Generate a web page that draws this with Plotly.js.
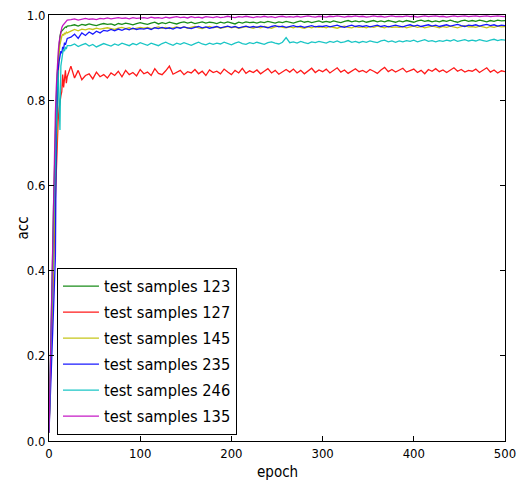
<!DOCTYPE html>
<html>
<head>
<meta charset="utf-8">
<script src="https://cdn.plot.ly/plotly-3.0.1.min.js"></script>
<style>html,body{margin:0;padding:0;background:#fff;}#chart{width:517px;height:482px;}</style>
</head>
<body>
<div id="chart"></div>
<script>
var epochs = [0,1,2,3,4,5,6,7,8,9,10,11,12,13,14,15,16,17,18,19,20,
  24,28,32,36,40,44,48,52,56,60,
  64,68,72,76,80,84,88,92,96,100,
  104,108,112,116,120,124,128,132,136,140,
  144,148,152,156,160,164,168,172,176,180,
  184,188,192,196,200,204,208,212,216,220,
  224,228,232,236,240,244,248,252,256,260,
  264,268,272,276,280,284,288,292,296,300,
  304,308,312,316,320,324,328,332,336,340,
  344,348,352,356,360,364,368,372,376,380,
  384,388,392,396,400,404,408,412,416,420,
  424,428,432,436,440,444,448,452,456,460,
  464,468,472,476,480,484,488,492,496,500];

var acc123 = [0.02,0.11,0.22,0.33,0.44,0.55,0.65,0.73,0.80,0.86,0.90,0.93,0.95,0.96,0.962,0.966,0.968,0.970,0.972,0.971,0.974,
  0.975,0.977,0.974,0.978,0.976,0.979,0.977,0.975,0.978,0.980,
  0.978,0.979,0.976,0.980,0.978,0.981,0.979,0.977,0.980,0.982,
  0.980,0.978,0.981,0.983,0.979,0.982,0.980,0.983,0.981,0.979,
  0.982,0.984,0.981,0.983,0.980,0.982,0.984,0.981,0.983,0.982,
  0.980,0.983,0.981,0.984,0.982,0.979,0.983,0.981,0.984,0.982,
  0.983,0.981,0.984,0.982,0.985,0.983,0.981,0.984,0.982,0.985,
  0.983,0.981,0.984,0.986,0.983,0.985,0.982,0.984,0.986,0.983,
  0.985,0.983,0.986,0.984,0.982,0.985,0.987,0.984,0.986,0.984,
  0.986,0.983,0.985,0.987,0.984,0.986,0.984,0.987,0.985,0.983,
  0.986,0.984,0.987,0.985,0.983,0.986,0.988,0.985,0.987,0.984,
  0.986,0.984,0.987,0.985,0.988,0.985,0.983,0.986,0.988,0.985,
  0.987,0.985,0.988,0.986,0.984,0.987,0.985,0.988,0.986,0.987];

var acc127 = [0.02,0.09,0.17,0.25,0.33,0.41,0.49,0.57,0.64,0.70,0.75,0.78,0.80,0.81,0.82,0.86,0.83,0.85,0.87,0.84,0.855,
  0.880,0.852,0.870,0.848,0.858,0.862,0.850,0.866,0.855,0.860,
  0.852,0.864,0.858,0.868,0.855,0.870,0.860,0.865,0.857,0.872,
  0.862,0.866,0.858,0.874,0.863,0.860,0.869,0.880,0.861,0.866,
  0.870,0.860,0.867,0.864,0.872,0.862,0.868,0.858,0.871,0.865,
  0.868,0.862,0.873,0.866,0.860,0.870,0.864,0.875,0.863,0.869,
  0.865,0.871,0.862,0.868,0.874,0.864,0.870,0.861,0.867,0.872,
  0.866,0.873,0.864,0.870,0.862,0.868,0.875,0.865,0.871,0.867,
  0.873,0.864,0.869,0.876,0.866,0.871,0.863,0.869,0.874,0.867,
  0.870,0.865,0.872,0.868,0.863,0.871,0.877,0.867,0.872,0.866,
  0.871,0.875,0.866,0.870,0.873,0.865,0.870,0.862,0.872,0.868,
  0.874,0.867,0.871,0.865,0.870,0.876,0.868,0.872,0.866,0.870,
  0.868,0.873,0.865,0.870,0.876,0.866,0.871,0.864,0.869,0.867];

var acc145 = [0.02,0.10,0.19,0.28,0.37,0.46,0.55,0.63,0.70,0.78,0.86,0.91,0.93,0.945,0.95,0.955,0.952,0.958,0.955,0.960,0.958,
  0.962,0.966,0.963,0.967,0.965,0.968,0.966,0.969,0.967,0.968,
  0.970,0.968,0.966,0.969,0.971,0.968,0.970,0.967,0.969,0.971,
  0.969,0.971,0.968,0.970,0.972,0.969,0.971,0.968,0.970,0.972,
  0.970,0.972,0.969,0.971,0.973,0.970,0.968,0.971,0.973,0.970,
  0.972,0.969,0.971,0.973,0.970,0.972,0.969,0.971,0.973,0.971,
  0.969,0.972,0.970,0.973,0.971,0.969,0.972,0.974,0.971,0.970,
  0.972,0.970,0.973,0.971,0.969,0.972,0.970,0.973,0.971,0.972,
  0.970,0.973,0.971,0.969,0.972,0.974,0.971,0.970,0.973,0.971,
  0.972,0.970,0.973,0.971,0.974,0.972,0.970,0.973,0.971,0.972,
  0.971,0.973,0.970,0.972,0.974,0.971,0.973,0.970,0.972,0.974,
  0.972,0.970,0.973,0.971,0.974,0.972,0.970,0.973,0.975,0.972,
  0.973,0.971,0.974,0.972,0.970,0.973,0.971,0.974,0.972,0.973];

var acc235 = [0.02,0.07,0.13,0.19,0.25,0.31,0.37,0.43,0.72,0.82,0.87,0.89,0.90,0.915,0.91,0.925,0.92,0.935,0.93,0.94,0.945,
  0.948,0.955,0.945,0.958,0.952,0.960,0.955,0.962,0.958,0.964,
  0.962,0.966,0.963,0.967,0.964,0.968,0.965,0.969,0.966,0.968,
  0.967,0.969,0.966,0.970,0.968,0.971,0.968,0.970,0.967,0.971,
  0.969,0.972,0.970,0.968,0.971,0.973,0.970,0.972,0.969,0.971,
  0.973,0.970,0.972,0.974,0.971,0.973,0.970,0.972,0.974,0.971,
  0.973,0.971,0.974,0.972,0.970,0.973,0.975,0.972,0.974,0.971,
  0.973,0.975,0.972,0.974,0.971,0.973,0.975,0.972,0.974,0.973,
  0.975,0.972,0.974,0.976,0.973,0.971,0.974,0.976,0.973,0.975,
  0.973,0.975,0.972,0.974,0.976,0.973,0.975,0.972,0.974,0.976,
  0.974,0.972,0.975,0.977,0.974,0.976,0.973,0.975,0.977,0.974,
  0.976,0.973,0.975,0.977,0.974,0.976,0.978,0.975,0.973,0.976,
  0.975,0.977,0.974,0.976,0.978,0.975,0.977,0.974,0.976,0.975];

var acc246 = [0.02,0.10,0.20,0.30,0.40,0.50,0.59,0.67,0.75,0.83,0.87,0.80,0.73,0.88,0.90,0.91,0.92,0.915,0.925,0.92,0.928,
  0.928,0.932,0.926,0.930,0.933,0.927,0.931,0.925,0.929,0.933,
  0.930,0.927,0.932,0.929,0.934,0.931,0.928,0.933,0.930,0.935,
  0.932,0.929,0.934,0.931,0.928,0.933,0.936,0.932,0.929,0.934,
  0.931,0.935,0.932,0.929,0.933,0.936,0.932,0.930,0.934,0.931,
  0.934,0.932,0.936,0.933,0.930,0.934,0.937,0.933,0.931,0.935,
  0.933,0.936,0.934,0.931,0.935,0.937,0.934,0.932,0.936,0.947,
  0.935,0.937,0.934,0.938,0.935,0.933,0.937,0.935,0.938,0.936,
  0.934,0.938,0.936,0.939,0.935,0.937,0.940,0.936,0.938,0.935,
  0.938,0.936,0.939,0.937,0.935,0.939,0.941,0.937,0.939,0.936,
  0.939,0.937,0.940,0.938,0.941,0.937,0.939,0.942,0.938,0.940,
  0.937,0.940,0.938,0.941,0.939,0.942,0.938,0.940,0.942,0.939,
  0.941,0.939,0.942,0.940,0.938,0.941,0.943,0.940,0.942,0.941];

var acc135 = [0.02,0.13,0.25,0.37,0.49,0.60,0.69,0.77,0.83,0.88,0.91,0.935,0.95,0.962,0.97,0.975,0.978,0.982,0.984,0.986,0.988,
  0.989,0.991,0.988,0.990,0.992,0.990,0.991,0.989,0.992,0.991,
  0.993,0.991,0.992,0.994,0.992,0.993,0.991,0.994,0.992,0.993,
  0.994,0.992,0.995,0.993,0.994,0.992,0.995,0.993,0.994,0.996,
  0.994,0.995,0.993,0.996,0.994,0.995,0.993,0.996,0.995,0.994,
  0.996,0.994,0.995,0.997,0.995,0.994,0.996,0.995,0.997,0.995,
  0.994,0.996,0.995,0.997,0.995,0.996,0.994,0.996,0.997,0.995,
  0.996,0.995,0.997,0.995,0.996,0.998,0.996,0.995,0.997,0.996,
  0.995,0.997,0.996,0.998,0.996,0.995,0.997,0.996,0.998,0.996,
  0.997,0.995,0.996,0.998,0.996,0.997,0.995,0.997,0.998,0.996,
  0.997,0.996,0.998,0.996,0.997,0.995,0.997,0.998,0.996,0.997,
  0.998,0.996,0.997,0.995,0.997,0.998,0.996,0.997,0.998,0.996,
  0.997,0.998,0.996,0.997,0.998,0.996,0.997,0.998,0.997,0.996];

var seriesNames = ['test samples 123','test samples 127','test samples 145','test samples 235','test samples 246','test samples 135'];
var seriesValues = [acc123, acc127, acc145, acc235, acc246, acc135];
var seriesColors = ['#008000','#ff0000','#bfbf00','#0000ff','#00bfbf','#bf00bf'];
var xTicks = [0,100,200,300,400,500];
var yTicks = [0,0.2,0.4,0.6,0.8,1.0];

var FONT = '"DejaVu Sans Condensed", "DejaVu Sans", sans-serif';

var traces = seriesNames.map(function(n, i){
  return {x: epochs, y: seriesValues[i], name: n, type: 'scatter', mode: 'lines',
    legendgroup: 'g'+i, opacity: 0.9,
    line: {color: seriesColors[i], width: 1.3}};
});

var axisCommon = {showgrid:false, zeroline:false, showline:true, linecolor:'#000', linewidth:1,
  mirror:'ticks', ticks:'inside', ticklen:5, tickwidth:1, tickcolor:'#000',
  tickfont:{family:FONT, size:13, color:'#000'}};

var layout = {
  width:517, height:482,
  margin:{l:49, r:12, t:15, b:41},
  paper_bgcolor:'#fff', plot_bgcolor:'#fff',
  font:{family:FONT, color:'#000'},
  showlegend:true,
  legend:{x:0.0175, y:0.014, xanchor:'left', yanchor:'bottom', bgcolor:'#fff',
    bordercolor:'#000', borderwidth:1, tracegroupgap:1.8, itemwidth:36,
    font:{family:FONT, size:16.3, color:'#000'}},
  xaxis: Object.assign({}, axisCommon, {range:[0,500], tickvals:xTicks, ticktext:xTicks.map(String)}),
  yaxis: Object.assign({}, axisCommon, {range:[0,1], tickvals:yTicks, ticktext:yTicks.map(function(v){return v.toFixed(1);})}),
  annotations:[
    {text:'acc', xref:'paper', yref:'paper', x:-0.058, y:0.5, xanchor:'center', yanchor:'middle',
      textangle:-90, showarrow:false, font:{family:FONT, size:15, color:'#000'}},
    {text:'epoch', xref:'paper', yref:'paper', x:0.5, y:-0.072, xanchor:'center', yanchor:'middle',
      showarrow:false, font:{family:FONT, size:15, color:'#000'}}
  ]
};

Plotly.newPlot('chart', traces, layout, {displayModeBar:false, staticPlot:true});
</script>
</body>
</html>
